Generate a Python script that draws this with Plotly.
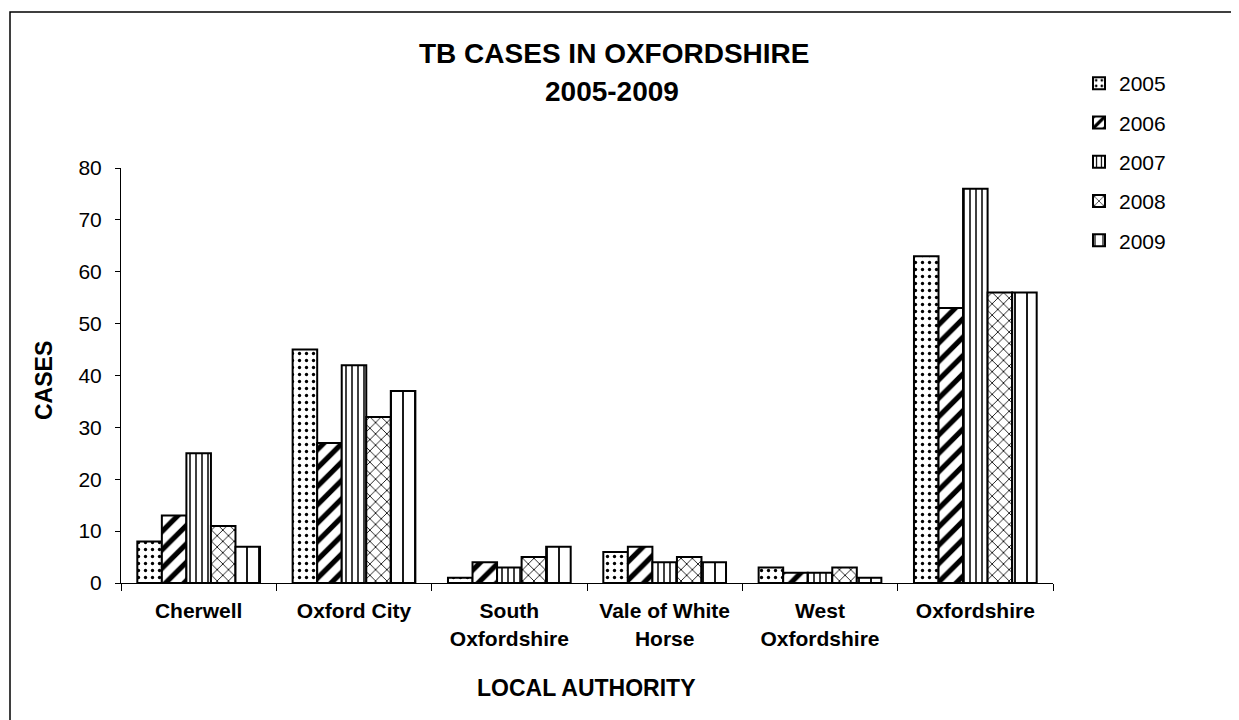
import plotly.graph_objects as go

categories = ["Cherwell", "Oxford City", "South<br>Oxfordshire", "Vale of White<br>Horse",
              "West<br>Oxfordshire", "Oxfordshire"]
years = ["2005", "2006", "2007", "2008", "2009"]
cases_2005 = [8, 45, 1, 6, 3, 63]
cases_2006 = [13, 27, 4, 7, 2, 53]
cases_2007 = [25, 42, 3, 4, 2, 76]
cases_2008 = [11, 32, 5, 5, 3, 56]
cases_2009 = [7, 37, 7, 4, 1, 56]
series = [cases_2005, cases_2006, cases_2007, cases_2008, cases_2009]

patterns = [
    dict(shape=".", size=7, solidity=0.18),
    dict(shape="/", size=13, solidity=0.4),
    dict(shape="|", size=6, solidity=0.25),
    dict(shape="x", size=8, solidity=0.2),
    dict(shape="|", size=12, solidity=0.15),
]

FONT = "Liberation Sans, Arial, sans-serif"
OFF = 8  # page body margin
W, H = 1239 - OFF, 720 - OFF
L, R, T, B = 121 - OFF, 1053 - OFF, 168 - OFF, 583 - OFF

fig = go.Figure()
for yr, vals, pat in zip(years, series, patterns):
    fig.add_trace(go.Bar(
        x=categories, y=vals, name=yr, legendgroup=yr,
        marker=dict(color="white", line=dict(color="black", width=2),
                    pattern=dict(fgcolor="black", bgcolor="white", fillmode="replace", **pat)),
    ))

pw, ph = R - L, B - T
def px(x):  # page pixel -> paper
    return (x - OFF - L) / pw
def py(y):
    return (B - (y - OFF)) / ph

fig.update_layout(
    width=W, height=H,
    margin=dict(l=L, r=W - R, t=T, b=H - B, autoexpand=False),
    paper_bgcolor="white", plot_bgcolor="white",
    barmode="group", bargap=0.21, bargroupgap=0,
    font=dict(family=FONT, color="black", size=16),
    showlegend=True,
    legend=dict(x=px(1079), y=py(63), xanchor="left", yanchor="top",
                font=dict(size=21, family=FONT), tracegroupgap=9,
                itemwidth=30, bgcolor="rgba(0,0,0,0)"),
    xaxis=dict(showline=True, linecolor="black", linewidth=1, ticks="outside",
               tickson="boundaries", ticklen=7, tickcolor="black",
               tickfont=dict(size=21, family=FONT, weight="bold"),
               showgrid=False, fixedrange=True, ticklabelstandoff=9),
    yaxis=dict(range=[0, 80], dtick=10, showline=True, linecolor="black", linewidth=1,
               ticks="outside", ticklen=5, tickcolor="black",
               tickfont=dict(size=21, family=FONT), showgrid=False, zeroline=False,
               ticklabelstandoff=9),
    annotations=[
        dict(text="<b>TB CASES IN OXFORDSHIRE</b>", x=px(614), y=py(54), xref="paper", yref="paper",
             showarrow=False, font=dict(size=28, family=FONT), xanchor="center", yanchor="middle"),
        dict(text="<b>2005-2009</b>", x=px(612), y=py(92), xref="paper", yref="paper",
             showarrow=False, font=dict(size=28, family=FONT), xanchor="center", yanchor="middle"),
        dict(text="<b>CASES</b>", x=px(44), y=py(381), xref="paper", yref="paper", textangle=-90,
             showarrow=False, font=dict(size=23, family=FONT), xanchor="center", yanchor="middle"),
        dict(text="<b>LOCAL AUTHORITY</b>", x=px(586), y=py(688), xref="paper", yref="paper",
             showarrow=False, font=dict(size=23, family=FONT), xanchor="center", yanchor="middle"),
    ],
    shapes=[
        dict(type="rect", xref="paper", yref="paper", x0=px(10), x1=px(1237), y0=py(730), y1=py(12),
             line=dict(color="black", width=1.5), fillcolor="rgba(0,0,0,0)", layer="below"),
    ],
)

fig.write_html("out.html")
